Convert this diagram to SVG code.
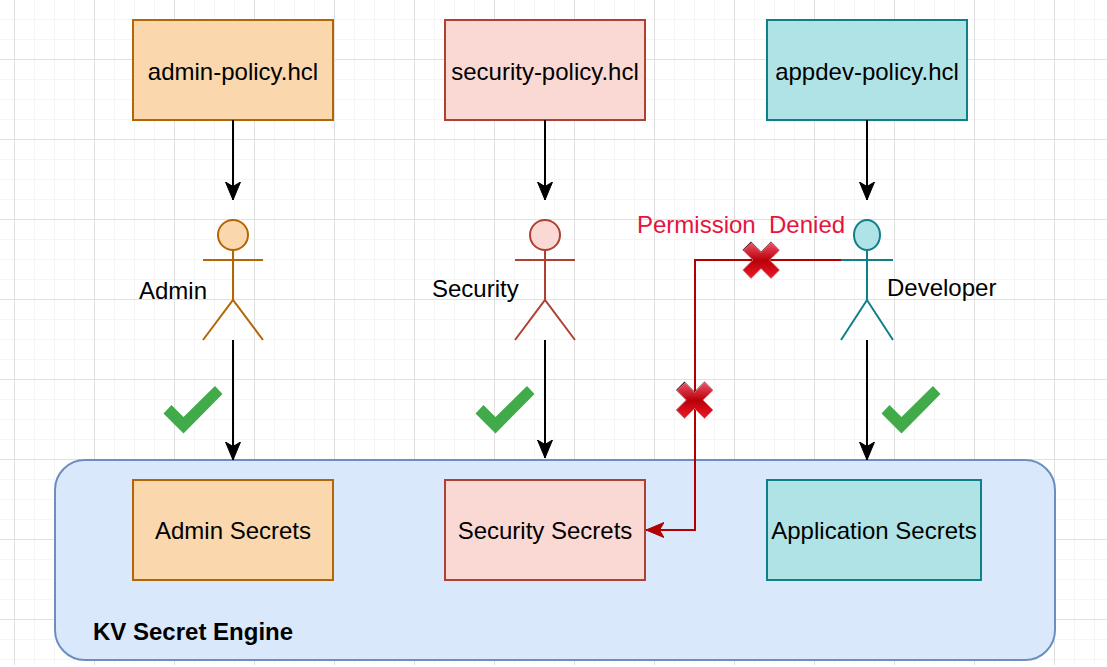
<svg xmlns="http://www.w3.org/2000/svg" width="1107" height="667" viewBox="0 0 1107 667">
<style>
.t{font-family:"Liberation Sans",Arial,sans-serif;font-size:24px;fill:#000;text-anchor:middle}
.l{text-anchor:start}
.o{fill:#fad7ac;stroke:#b46504;stroke-width:2}
.r{fill:#fad9d5;stroke:#ae4132;stroke-width:2}
.c{fill:#b0e3e6;stroke:#0e8088;stroke-width:2}
.fig{fill:none;stroke-width:2}
.a{fill:none;stroke:#000;stroke-width:2;marker-end:url(#ah)}
.ok{fill:#41ab4a}
</style>
<defs>
<marker id="ah" markerUnits="userSpaceOnUse" markerWidth="20" markerHeight="20" refX="18" refY="10" orient="auto" viewBox="0 0 20 20"><path d="M0,2.5 L18,10 L0,17.5 L4.5,10 Z" fill="#000" stroke="#000" stroke-width="1"/></marker>
<marker id="rh" markerUnits="userSpaceOnUse" markerWidth="20" markerHeight="20" refX="18" refY="10" orient="auto" viewBox="0 0 20 20"><path d="M0,2.5 L18,10 L0,17.5 L4.5,10 Z" fill="#b20000" stroke="#b20000" stroke-width="1"/></marker>
<linearGradient id="xg" x1="0" y1="0" x2="0" y2="1"><stop offset="0" stop-color="#f05068"/><stop offset=".5" stop-color="#b80008"/><stop offset="1" stop-color="#f01828"/></linearGradient>
<g id="x">
<path d="M-10,-18.5 L0,-8.5 L10,-18.5 L18.5,-10 L8.5,0 L18.5,10 L10,18.5 L0,8.5 L-10,18.5 L-18.5,10 L-8.5,0 L-18.5,-10 Z" fill="#3a1018"/>
<path d="M-9.5,-17 L0,-7.5 L10,-17.5 L18.5,-9.5 L8.5,0 L18.5,10 L10,18.5 L0,8.5 L-10,18.5 L-18,10 L-8,0 L-17.5,-9.5 Z" fill="url(#xg)" stroke="#ffa8a8" stroke-width="0.6"/>
</g>
<path id="chk" d="M215,386 L222.5,394 L183.5,433.5 L163.5,413.5 L171.5,405 L183.5,417 Z"/>
</defs>
<rect width="1107" height="667" fill="#fff"/>
<g id="grid" fill="none" stroke-width="1">
<path stroke="#f5f5f5" d="M34.5,0V665M54.5,0V665M74.5,0V665M114.5,0V665M134.5,0V665M154.5,0V665M194.5,0V665M214.5,0V665M234.5,0V665M274.5,0V665M294.5,0V665M314.5,0V665M354.5,0V665M374.5,0V665M394.5,0V665M434.5,0V665M454.5,0V665M474.5,0V665M514.5,0V665M534.5,0V665M554.5,0V665M594.5,0V665M614.5,0V665M634.5,0V665M674.5,0V665M694.5,0V665M714.5,0V665M754.5,0V665M774.5,0V665M794.5,0V665M834.5,0V665M854.5,0V665M874.5,0V665M914.5,0V665M934.5,0V665M954.5,0V665M994.5,0V665M1014.5,0V665M1034.5,0V665M1074.5,0V665M1094.5,0V665M0,19.5H1107M0,39.5H1107M0,79.5H1107M0,99.5H1107M0,119.5H1107M0,159.5H1107M0,179.5H1107M0,199.5H1107M0,239.5H1107M0,259.5H1107M0,279.5H1107M0,319.5H1107M0,339.5H1107M0,359.5H1107M0,399.5H1107M0,419.5H1107M0,439.5H1107M0,479.5H1107M0,499.5H1107M0,519.5H1107M0,559.5H1107M0,579.5H1107M0,599.5H1107M0,639.5H1107M0,659.5H1107"/>
<path stroke="#e0e0e0" d="M14.5,0V665M94.5,0V665M174.5,0V665M254.5,0V665M334.5,0V665M414.5,0V665M494.5,0V665M574.5,0V665M654.5,0V665M734.5,0V665M814.5,0V665M894.5,0V665M974.5,0V665M1054.5,0V665M0,59.5H1107M0,139.5H1107M0,219.5H1107M0,299.5H1107M0,379.5H1107M0,459.5H1107M0,539.5H1107M0,619.5H1107"/>
</g>
<g id="kv-engine"><rect x="55" y="460" width="1000" height="200" rx="30" fill="#dae8fc" stroke="#6c8ebf" stroke-width="2"/><text class="t l" x="93" y="640" style="font-weight:bold">KV Secret Engine</text></g>
<g id="admin-policy"><rect class="o" x="133" y="20" width="200" height="100"/><text class="t" x="233" y="80">admin-policy.hcl</text></g>
<g id="security-policy"><rect class="r" x="445" y="20" width="200" height="100"/><text class="t" x="545" y="80">security-policy.hcl</text></g>
<g id="appdev-policy"><rect class="c" x="767" y="20" width="200" height="100"/><text class="t" x="867" y="80">appdev-policy.hcl</text></g>
<g id="admin-secrets"><rect class="o" x="133" y="480" width="200" height="100"/><text class="t" x="233" y="539">Admin Secrets</text></g>
<g id="security-secrets"><rect class="r" x="445" y="480" width="200" height="100"/><text class="t" x="545" y="539">Security Secrets</text></g>
<g id="application-secrets"><rect class="c" x="767" y="480" width="214" height="100"/><text class="t" x="874" y="539">Application Secrets</text></g>
<g id="admin"><circle class="o" cx="233" cy="235" r="15"/><path class="fig" stroke="#b46504" d="M233,250V300M203,260H263M203,340L233,300L263,340"/><text class="t l" x="139" y="299">Admin</text></g>
<g id="security"><circle class="r" cx="545" cy="235" r="15"/><path class="fig" stroke="#ae4132" d="M545,250V300M515,260H575M515,340L545,300L575,340"/><text class="t l" x="432" y="297">Security</text></g>
<g id="developer"><ellipse class="c" cx="867" cy="235" rx="13" ry="15"/><path class="fig" stroke="#0e8088" d="M867,250V300M841,260H893M841,340L867,300L893,340"/><text class="t l" x="887" y="296">Developer</text></g>
<g id="connectors">
<path class="a" d="M233,120V200"/>
<path class="a" d="M545,120V200"/>
<path class="a" d="M867,120V200"/>
<path class="a" d="M233,340V460"/>
<path class="a" d="M545,340V458"/>
<path class="a" d="M867,340V460"/>
<path d="M841,260H695V530H646" fill="none" stroke="#b20000" stroke-width="2" marker-end="url(#rh)"/>
</g>
<text class="t l" x="637" y="233" style="fill:#e6143c;white-space:pre" xml:space="preserve">Permission  Denied</text>
<use href="#x" x="761" y="260"/>
<use href="#x" x="694.5" y="400"/>
<use href="#chk" class="ok"/>
<use href="#chk" class="ok" x="312"/>
<use href="#chk" class="ok" x="718"/>
</svg>
